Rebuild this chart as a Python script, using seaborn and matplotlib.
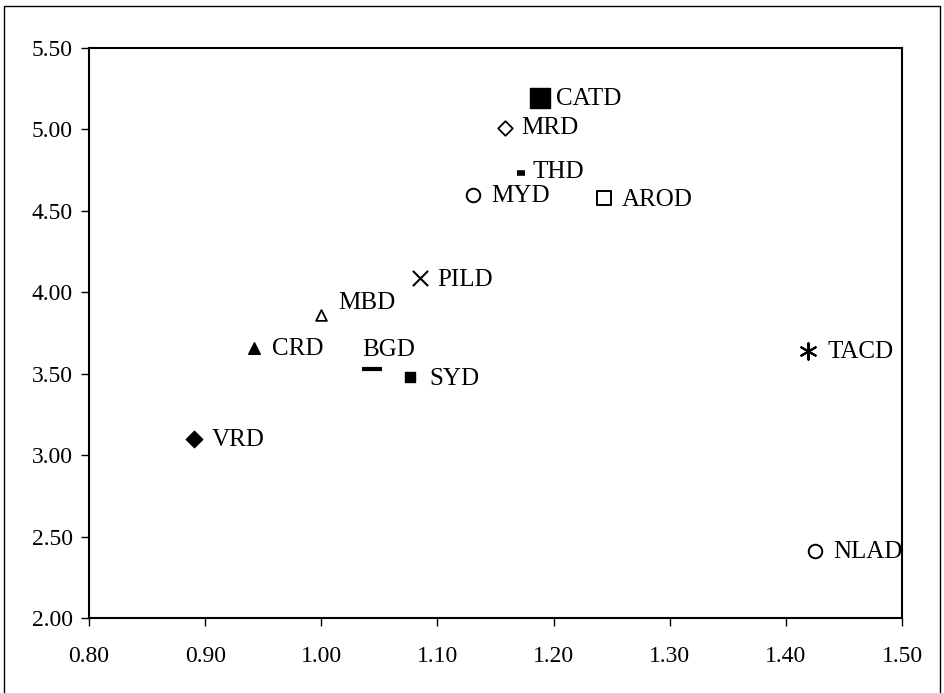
import matplotlib
matplotlib.use("Agg")
import matplotlib.pyplot as plt
import seaborn as sns
import numpy as np
from matplotlib.patches import Rectangle

# Data
labels = ["CATD", "MRD", "THD", "MYD", "AROD", "PILD", "MBD", "CRD", "BGD", "SYD", "VRD", "TACD", "NLAD"]
x_vals = [1.188, 1.158, 1.172, 1.131, 1.243, 1.085, 1.000, 0.942, 1.044, 1.076, 0.890, 1.419, 1.425]
y_vals = [5.19, 5.01, 4.73, 4.60, 4.58, 4.09, 3.86, 3.66, 3.53, 3.48, 3.10, 3.64, 2.41]
x_ticks = [0.80, 0.90, 1.00, 1.10, 1.20, 1.30, 1.40, 1.50]
y_ticks = [2.00, 2.50, 3.00, 3.50, 4.00, 4.50, 5.00, 5.50]

# Styles: marker, size, facecolor, linewidth
styles = {
    "CATD": ("s", 210, "black", 1.0),
    "MRD": ("D", 55, "white", 1.3),
    "THD": ("_", 40, "black", 4.0),
    "MYD": ("o", 95, "white", 1.4),
    "AROD": ("s", 95, "white", 1.4),
    "PILD": ("x", 120, "black", 1.5),
    "MBD": ("^", 60, "white", 1.3),
    "CRD": ("^", 70, "black", 1.0),
    "BGD": ("_", 200, "black", 3.0),
    "SYD": ("s", 60, "black", 1.0),
    "VRD": ("D", 70, "black", 1.0),
    "TACD": ((6, 2, 0), 140, "black", 1.5),
    "NLAD": ("o", 95, "white", 1.4),
}
# Label offsets in pixels (dx, dy)
offsets = {
    "CATD": (16, -1), "MRD": (16, 0), "THD": (11, 1), "MYD": (18, -1),
    "AROD": (18, -2), "PILD": (17, -2), "MBD": (17, 12), "CRD": (18, -1),
    "BGD": (-10, 19), "SYD": (20, -2), "VRD": (18, -1), "TACD": (20, -1),
    "NLAD": (18, -1),
}

sns.set_theme(style="white")
plt.rcParams["font.family"] = ["Liberation Serif", "DejaVu Serif"]

fig = plt.figure(figsize=(9.44, 6.93), dpi=100)
ax = fig.add_axes([89/944, 1-618/693, (902-89)/944, (618-48)/693])

for lab, xv, yv in zip(labels, x_vals, y_vals):
    m, s, fc, lw = styles[lab]
    if m in ("_", "x"):
        sns.scatterplot(x=[xv], y=[yv], marker=m, s=s, color="black", linewidth=lw, ax=ax, zorder=3)
    else:
        sns.scatterplot(x=[xv], y=[yv], marker=m, s=s, facecolor=fc, edgecolor="black",
                        linewidth=lw, ax=ax, zorder=3)
    dx, dy = offsets[lab]
    ax.annotate(lab, (xv, yv), xytext=(dx, dy), textcoords="offset pixels",
                ha="left", va="center", fontsize=18, color="black")

ax.set_xlim(0.80, 1.50)
ax.set_ylim(2.00, 5.50)
ax.set_xticks(x_ticks)
ax.set_yticks(y_ticks)
ax.set_xticklabels([f"{v:.2f}" for v in x_ticks])
ax.set_yticklabels([f"{v:.2f}" for v in y_ticks])
ax.tick_params(axis="both", which="major", direction="out", length=5.5, width=1,
               labelsize=17, colors="black", bottom=True, left=True)
ax.tick_params(axis="y", pad=6)
ax.tick_params(axis="x", pad=15)
for sp in ax.spines.values():
    sp.set_visible(True)
    sp.set_color("black")
    sp.set_linewidth(1.5)
ax.set_xlabel("")
ax.set_ylabel("")
ax.grid(False)

# Outer frame
fig.patches.append(Rectangle((4/944, -0.01), (940-4)/944, 1-6/693 + 0.01, transform=fig.transFigure,
                             fill=False, edgecolor="black", linewidth=1.0))

fig.savefig("out.png", dpi=100, facecolor="white")
